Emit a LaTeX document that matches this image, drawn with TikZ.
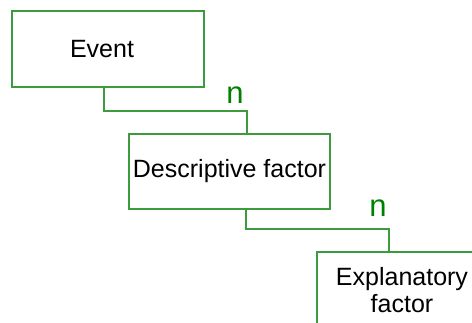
\documentclass[tikz,border=0pt]{standalone}
\usepackage{fontspec}
\setmainfont{Liberation Sans}
\definecolor{boxgreen}{RGB}{60,155,60}
\definecolor{ngreen}{RGB}{0,128,0}
\begin{document}
\begin{tikzpicture}[x=1pt,y=-1pt,
  entity/.style={draw=boxgreen,line width=1.4pt,fill=white,rectangle,inner sep=0pt,
    font=\fontsize{25}{27}\selectfont,align=center},
  conn/.style={draw=boxgreen,line width=1.4pt},
  card/.style={text=ngreen,font=\fontsize{31}{32}\selectfont,inner sep=0pt}]
\useasboundingbox (0,0) rectangle (472,323);
\clip (0,0) rectangle (472,323);
\node[entity,minimum width=192pt,minimum height=76pt] (ev) at (108,49) {\hspace*{-12pt}Event};
\node[entity,minimum width=201pt,minimum height=75pt] (ds) at (229.5,171.5) {Descriptive factor};
\node[entity,minimum width=170pt,minimum height=76pt] (ex) at (402,290) {Explanatory\\factor};
\coordinate (a1) at ([xshift=-4pt]ev.south);
\coordinate (h1) at (0,111);
\coordinate (b1) at ([xshift=17.5pt]ds.north);
\coordinate (a2) at ([xshift=16.5pt]ds.south);
\coordinate (h2) at (0,229);
\coordinate (b2) at ([xshift=-13pt]ex.north);
\draw[conn] (a1) -- (a1 |- h1) -| (b1);
\draw[conn] (a2) -- (a2 |- h2) -| (b2);
\node[card] (n1) at (235,95.5) {n};
\node[card] (n2) at (378,208.5) {n};
\end{tikzpicture}
\end{document}
